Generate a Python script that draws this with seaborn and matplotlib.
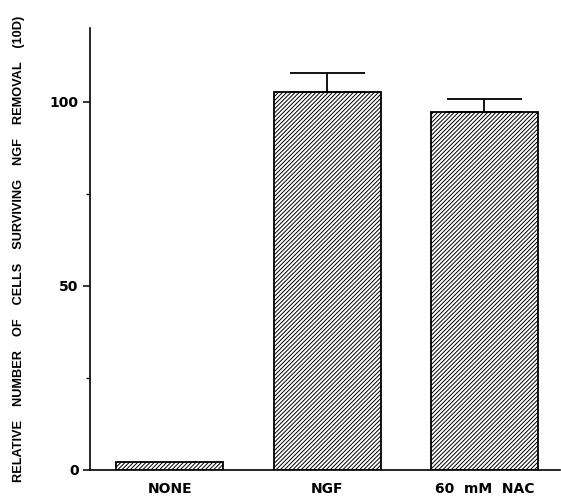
import matplotlib
matplotlib.use("Agg")
import matplotlib.pyplot as plt
import seaborn as sns
import pandas as pd

# values
conditions = ["NONE", "NGF", "60  mM  NAC"]
survival = [2.2, 102.7, 97.3]
sem_up = [0.0, 5.0, 3.5]

sns.set_style("ticks")
plt.rcParams["font.family"] = ["DejaVu Sans"]
plt.rcParams["text.color"] = "black"
plt.rcParams["axes.labelcolor"] = "black"
plt.rcParams["xtick.color"] = "black"
plt.rcParams["ytick.color"] = "black"
plt.rcParams["hatch.linewidth"] = 0.7
plt.rcParams["hatch.color"] = "black"

df = pd.DataFrame({"condition": conditions, "survival": survival})

fig = plt.figure(figsize=(5.61, 5.01), dpi=100)
ax = fig.add_axes([0.160, 0.062, 0.838, 0.882])

sns.barplot(data=df, x="condition", y="survival", color="white", width=0.68,
            edgecolor="black", linewidth=1.3, hatch="////////", errorbar=None,
            ax=ax, zorder=2)

# only the upper half of the error bars, skip the bar with none
for i, (v, e) in enumerate(zip(survival, sem_up)):
    if e > 0:
        ax.errorbar(i, v, yerr=[[0], [e]], fmt="none", ecolor="black",
                    elinewidth=1.3, capsize=27, capthick=1.3, zorder=3)

ax.set_xlim(-0.51, 2.48)
ax.set_ylim(0, 120)
ax.set_yticks([0, 50, 100])
ax.set_yticks([25, 75], minor=True)
ax.tick_params(axis="y", which="major", length=5, width=1.1, labelsize=10, pad=3)
ax.tick_params(axis="y", which="minor", length=3, width=1.0)
ax.tick_params(axis="x", length=0, labelsize=10, pad=9)
for lab in ax.get_xticklabels() + ax.get_yticklabels():
    lab.set_fontweight("bold")

sns.despine(ax=ax)
ax.spines["left"].set_linewidth(1.2)
ax.spines["bottom"].set_linewidth(1.2)
ax.spines["left"].set_color("black")
ax.spines["bottom"].set_color("black")

ax.set_xlabel("")
ylab = "    ".join(["RELATIVE", "NUMBER", "OF", "CELLS", "SURVIVING", "NGF", "REMOVAL", "(10D)"])
ax.set_ylabel(ylab, fontsize=9.2, fontweight="bold", family="Liberation Sans")
ax.yaxis.set_label_coords(-0.137, 0.5)

plt.savefig("out.png", dpi=100)
